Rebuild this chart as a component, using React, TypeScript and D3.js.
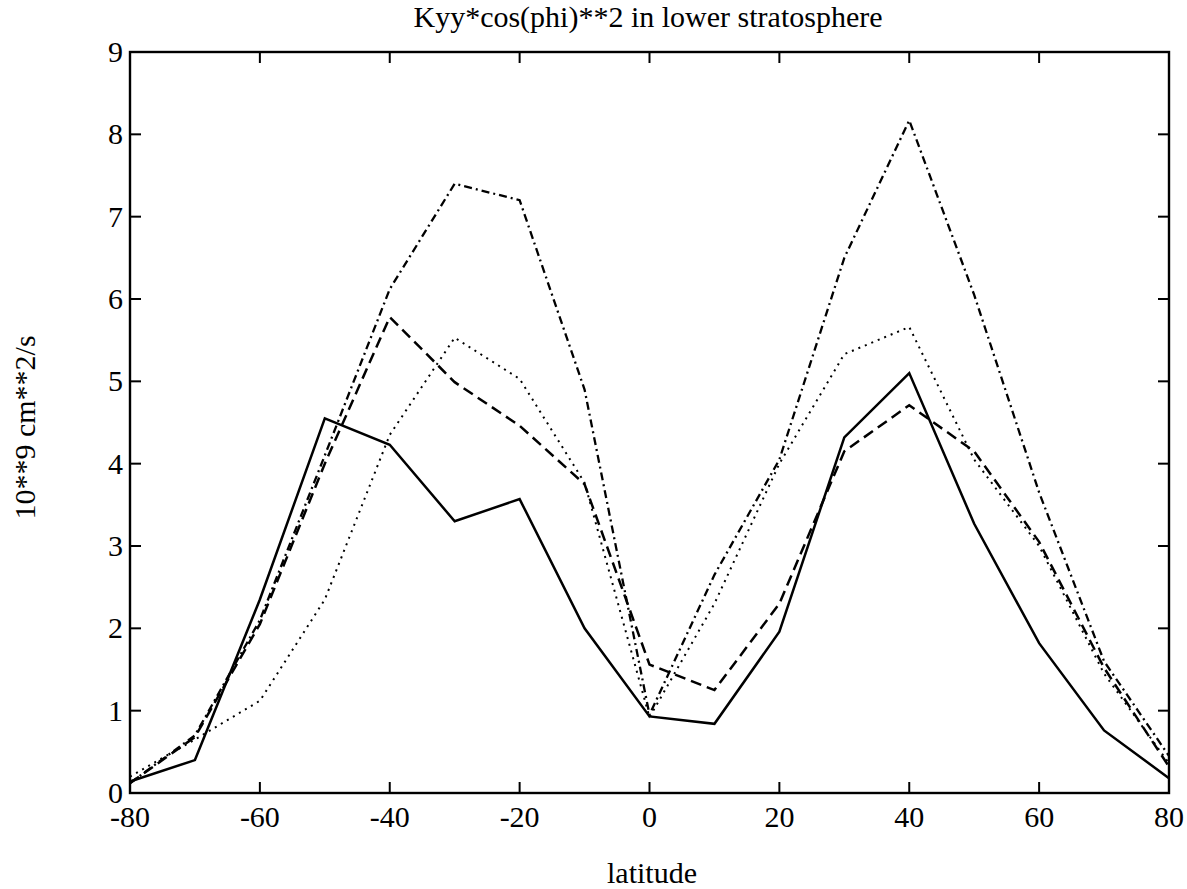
import React from "react";
import * as d3 from "d3";

const latitudes = [-80, -70, -60, -50, -40, -30, -20, -10, 0, 10, 20, 30, 40, 50, 60, 70, 80];
const solidValues = [0.14, 0.4, 2.35, 4.55, 4.23, 3.3, 3.57, 2.0, 0.93, 0.84, 1.96, 4.32, 5.1, 3.27, 1.82, 0.76, 0.18];
const dashedValues = [0.12, 0.68, 2.05, 4.0, 5.78, 4.99, 4.46, 3.75, 1.56, 1.25, 2.3, 4.15, 4.71, 4.15, 3.05, 1.52, 0.32];
const dashDotValues = [0.12, 0.7, 2.1, 4.1, 6.12, 7.4, 7.2, 4.9, 0.95, 2.65, 4.05, 6.5, 8.17, 6.05, 3.65, 1.6, 0.45];
const dottedValues = [0.2, 0.65, 1.12, 2.35, 4.35, 5.53, 5.03, 3.77, 0.92, 2.3, 4.0, 5.33, 5.66, 4.05, 3.0, 1.45, 0.36];
const xTicks = [-80, -60, -40, -20, 0, 20, 40, 60, 80];
const yTicks = [0, 1, 2, 3, 4, 5, 6, 7, 8, 9];
const titleText = "Kyy*cos(phi)**2 in lower stratosphere";
const xLabelText = "latitude";
const yLabelText = "10**9 cm**2/s";

const W = 1187;
const H = 889;
const left = 130;
const right = 1169;
const top = 52;
const bottom = 793;
const FONT = "'Liberation Serif', 'DejaVu Serif', serif";

export default function App() {
  const x = d3.scaleLinear().domain([-80, 80]).range([left, right]);
  const y = d3.scaleLinear().domain([0, 9]).range([bottom, top]);
  const line = d3
    .line<number>()
    .x((_, i) => x(latitudes[i]))
    .y((d) => y(d));

  const series = [
    { vals: solidValues, dash: "none", w: 2.5 },
    { vals: dashedValues, dash: "11 6", w: 2.5 },
    { vals: dashDotValues, dash: "8 4 2 4", w: 2.3 },
    { vals: dottedValues, dash: "2 5", w: 2 },
  ];

  const tickLen = 11;
  return (
    <svg
      width={W}
      height={H}
      style={{ position: "absolute", left: 0, top: 0, background: "#fff" }}
      fontFamily={FONT}
    >
      <rect x={0} y={0} width={W} height={H} fill="#fff" />
      {series.map((s, i) => (
        <path
          key={i}
          d={line(s.vals) || ""}
          fill="none"
          stroke="#000"
          strokeWidth={s.w}
          strokeDasharray={s.dash}
          strokeLinejoin="miter"
        />
      ))}
      <rect x={left} y={top} width={right - left} height={bottom - top} fill="none" stroke="#000" strokeWidth={2.4} />
      {xTicks.map((t) => (
        <g key={"x" + t}>
          <line x1={x(t)} x2={x(t)} y1={bottom} y2={bottom - tickLen} stroke="#000" strokeWidth={2} />
          <line x1={x(t)} x2={x(t)} y1={top} y2={top + tickLen} stroke="#000" strokeWidth={2} />
          <text x={x(t)} y={827} textAnchor="middle" fontSize={30} fill="#000">
            {t}
          </text>
        </g>
      ))}
      {yTicks.map((t) => (
        <g key={"y" + t}>
          <line x1={left} x2={left + tickLen} y1={y(t)} y2={y(t)} stroke="#000" strokeWidth={2} />
          <line x1={right} x2={right - tickLen} y1={y(t)} y2={y(t)} stroke="#000" strokeWidth={2} />
          <text x={left - 7} y={y(t)} dy="0.33em" textAnchor="end" fontSize={30} fill="#000">
            {t}
          </text>
        </g>
      ))}
      <text x={648} y={27} textAnchor="middle" fontSize={30} fill="#000">
        {titleText}
      </text>
      <text x={652} y={883} textAnchor="middle" fontSize={30} fill="#000">
        {xLabelText}
      </text>
      <text
        transform={`translate(35, ${(top + bottom) / 2 + 5}) rotate(-90)`}
        textAnchor="middle"
        fontSize={30}
        fill="#000"
      >
        {yLabelText}
      </text>
    </svg>
  );
}
